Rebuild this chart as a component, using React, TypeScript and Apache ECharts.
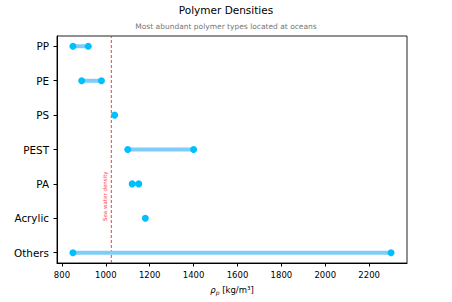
import React, { useEffect, useRef } from "react";
import * as echarts from "echarts";

const categories = ["PP", "PE", "PS", "PEST", "PA", "Acrylic", "Others"];
const minDensity = [850, 890, 1040, 1100, 1120, 1180, 850];
const maxDensity = [920, 980, 1040, 1400, 1150, 1180, 2300];
const seaWaterDensity = 1025;
const xTicks = [800, 1000, 1200, 1400, 1600, 1800, 2000, 2200];
const titleText = "Polymer Densities";
const subtitleText = "Most abundant polymer types located at oceans";
const seaLabel = "Sea water density";

const FONT = "DejaVu Sans";

export default function App() {
  const ref = useRef<HTMLDivElement>(null);
  useEffect(() => {
    if (!ref.current) return;
    const chart = echarts.init(ref.current, null, { renderer: "svg" });
    const lineData: any[] = [];
    const dotData: any[] = [];
    categories.forEach((_, i) => {
      lineData.push([minDensity[i], i]);
      lineData.push([maxDensity[i], i]);
      lineData.push("-");
      dotData.push([minDensity[i], i]);
      if (maxDensity[i] !== minDensity[i]) dotData.push([maxDensity[i], i]);
    });
    const idx = categories.map((_, i) => i);
    const yMin = -0.3;
    const yMax = categories.length - 1 + 0.3;
    chart.setOption({
      animation: false,
      title: [
        {
          text: titleText,
          left: "center",
          top: 4,
          padding: 0,
          textStyle: { fontFamily: FONT, fontSize: 10.5, fontWeight: "normal", color: "#000" },
        },
        {
          text: subtitleText,
          left: "center",
          top: 22,
          padding: 0,
          textStyle: { fontFamily: FONT, fontSize: 7.5, fontWeight: "normal", color: "#777" },
        },
      ],
      grid: {
        left: 57,
        right: 45,
        top: 36,
        bottom: 39,
        show: true,
        borderColor: "#222",
        borderWidth: 1,
        backgroundColor: "transparent",
      },
      xAxis: {
        type: "value",
        min: 777.5,
        max: 2372.5,
        splitLine: { show: false },
        axisLine: { show: true, onZero: false, lineStyle: { color: "#000", width: 1 } },
        axisTick: { show: true, inside: false, length: 3.5, lineStyle: { color: "#000" }, customValues: xTicks },
        axisLabel: {
          customValues: xTicks,
          formatter: (v: number) => String(v),
          fontFamily: FONT,
          fontSize: 8.5,
          color: "#000",
          margin: 7,
        },
        name: "{i|ρ}{s|p} [kg/m³]",
        nameLocation: "middle",
        nameGap: 22,
        nameTextStyle: {
          fontFamily: FONT,
          fontSize: 8.5,
          color: "#000",
          rich: {
            i: { fontFamily: FONT, fontSize: 8.5, fontStyle: "italic", color: "#000" },
            s: { fontFamily: FONT, fontSize: 6, fontStyle: "italic", color: "#000", verticalAlign: "bottom", padding: [4, 0, 0, 0] },
          },
        },
      },
      yAxis: {
        type: "value",
        inverse: true,
        min: yMin,
        max: yMax,
        splitLine: { show: false },
        axisLine: { show: true, onZero: false, lineStyle: { color: "#000", width: 1 } },
        axisTick: { show: true, inside: false, length: 3.5, lineStyle: { color: "#000" }, customValues: idx },
        axisLabel: {
          customValues: idx,
          formatter: (v: number) => categories[Math.round(v)] ?? "",
          fontFamily: FONT,
          fontSize: 10.4,
          color: "#000",
          margin: 8,
        },
      },
      series: [
        {
          type: "line",
          data: [
            [seaWaterDensity, yMax],
            [seaWaterDensity, yMin],
          ],
          symbol: "none",
          silent: true,
          lineStyle: { color: "#ff2020", type: [3, 2], width: 1, opacity: 0.9 },
          z: 1,
          markLine: {
            silent: true,
            symbol: "none",
            lineStyle: { color: "rgba(0,0,0,0)", width: 0 },
            data: [
              [
                { coord: [seaWaterDensity, yMax] },
                { coord: [seaWaterDensity, yMin] },
              ],
            ],
            label: {
              show: true,
              formatter: seaLabel,
              position: "insideStartTop",
              distance: [42, 3],
              color: "#ff4040",
              fontFamily: FONT,
              fontSize: 5.5,
            },
          },
        },
        {
          type: "line",
          data: lineData,
          connectNulls: false,
          symbol: "none",
          lineStyle: { color: "#7fcdf7", width: 4 },
          z: 2,
        },
        {
          type: "scatter",
          data: dotData,
          symbol: "circle",
          symbolSize: 7,
          itemStyle: { color: "#00bfff", opacity: 1 },
          z: 3,
        },
      ],
    });
    return () => chart.dispose();
  }, []);
  return (
    <div
      ref={ref}
      style={{ position: "absolute", left: 0, top: 0, width: 452, height: 302 }}
    />
  );
}
